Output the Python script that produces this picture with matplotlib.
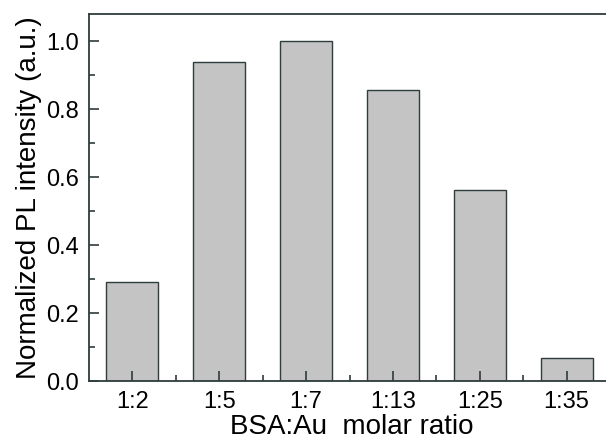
import matplotlib
matplotlib.use('Agg')
import matplotlib.pyplot as plt
from matplotlib.ticker import MultipleLocator

# BSA:Au molar ratio vs normalized PL intensity
ratios = ['1:2', '1:5', '1:7', '1:13', '1:25', '1:35']
intensity = [0.291, 0.940, 1.000, 0.858, 0.563, 0.068]

plt.rcParams['font.family'] = ['Liberation Sans', 'DejaVu Sans']
dark = '#2f3d3d'

fig = plt.figure(figsize=(6.06, 4.42), dpi=100)
ax = fig.add_axes([0.1469, 0.138, 0.867, 0.83])

x = list(range(len(ratios)))
ax.bar(x, intensity, width=0.6, color='#c4c4c4', edgecolor=dark, linewidth=1.0)

ax.set_xlim(-0.5, 5.55)
ax.set_ylim(0, 1.08)
ax.set_xticks(x)
ax.set_xticklabels(ratios)
ax.set_xticks([i + 0.5 for i in x[:-1]], minor=True)
ax.yaxis.set_major_locator(MultipleLocator(0.2))
ax.yaxis.set_minor_locator(MultipleLocator(0.1))
ax.yaxis.set_major_formatter(plt.FormatStrFormatter('%.1f'))

ax.tick_params(which='both', direction='in', color=dark, width=1.2,
               top=False, right=False)
ax.tick_params(which='major', length=7, labelsize=17, pad=7)
ax.tick_params(which='minor', length=4)
for s in ax.spines.values():
    s.set_color(dark)
    s.set_linewidth(1.3)
ax.spines['right'].set_visible(False)

ax.set_xlabel('BSA:Au  molar ratio', fontsize=20, labelpad=1)
ax.set_ylabel('Normalized PL intensity (a.u.)', fontsize=20, labelpad=3)

fig.savefig('out.png', dpi=100)
